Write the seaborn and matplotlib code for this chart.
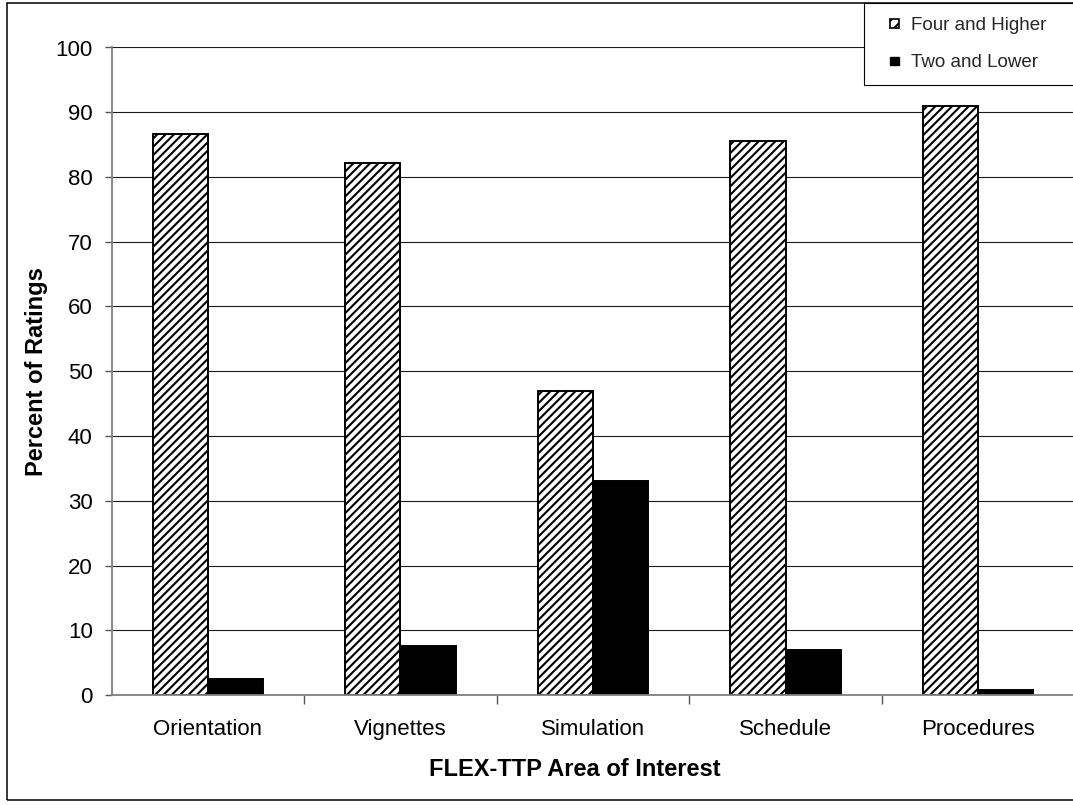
import pandas as pd
import seaborn as sns
import matplotlib.pyplot as plt
from matplotlib.patches import Patch, Rectangle
from matplotlib.legend_handler import HandlerPatch
from matplotlib.ticker import FixedLocator

# Survey results per area of interest
categories = ["Orientation", "Vignettes", "Simulation", "Schedule", "Procedures"]
four_and_higher = [86.6, 82.2, 46.9, 85.6, 90.9]
two_and_lower = [2.4, 7.6, 33.0, 6.9, 0.8]
series_names = ["Four and Higher", "Two and Lower"]
y_ticks = list(range(0, 101, 10))

df = pd.DataFrame({
    "Area": categories * 2,
    "Percent": four_and_higher + two_and_lower,
    "Rating": [series_names[0]] * len(categories) + [series_names[1]] * len(categories),
})

sns.set_theme(style="white")
plt.rcParams["font.family"] = ["Liberation Sans", "DejaVu Sans"]
plt.rcParams["hatch.linewidth"] = 1.5

W, H = 1073, 805
fig = plt.figure(figsize=(W / 100, H / 100), dpi=100)
fig.patch.set_facecolor("white")

# plot area in pixel terms
left, right, top, bottom = 111.5, 1074.5, 47.5, 695.0
ax = fig.add_axes([left / W, 1 - bottom / H, (right - left) / W, (bottom - top) / H])
ax.set_facecolor("white")

sns.barplot(
    data=df, x="Area", y="Percent", hue="Rating",
    palette=["white", "black"], saturation=1,
    width=0.574, gap=0, edgecolor="black", linewidth=1.4,
    errorbar=None, legend=False, ax=ax,
)
for bar in ax.containers[0]:
    bar.set_hatch("////")

ax.set_ylim(0, 100)
ax.set_xlim(-0.5, len(categories) - 0.5)
ax.set_yticks(y_ticks)
ax.set_yticklabels([str(v) for v in y_ticks], fontsize=16, color="black")
ax.set_xticks(range(len(categories)))
ax.set_xticklabels(categories, fontsize=16, color="black")

ax.xaxis.set_minor_locator(FixedLocator([i + 0.5 for i in range(len(categories) - 1)]))
ax.tick_params(axis="x", which="major", length=0, pad=17)
ax.tick_params(axis="x", which="minor", length=6.5, width=1.0, color="#555555", direction="out", bottom=True)
ax.tick_params(axis="y", which="major", length=5, width=1.0, color="#555555", direction="out", pad=8.5, left=True)

ax.yaxis.grid(True, color="#1a1a1a", linewidth=0.8)
ax.xaxis.grid(False)
ax.set_axisbelow(True)

for side in ("top", "right"):
    ax.spines[side].set_visible(False)
for side in ("left", "bottom"):
    ax.spines[side].set_color("#808080")
    ax.spines[side].set_linewidth(1.3)

ax.set_xlabel("FLEX-TTP Area of Interest", fontsize=17, fontweight="bold", color="black")
ax.set_ylabel("Percent of Ratings", fontsize=17, fontweight="bold", color="black", va="center")
ax.xaxis.set_label_coords((575 - left) / (right - left), (bottom - 757.5) / (bottom - top))
ax.yaxis.set_label_coords((37 - left) / (right - left), 0.5)

# outer chart border
fig.patches.append(Rectangle((7 / W, 5 / H), 1.2, (800 - 3) / H, transform=fig.transFigure,
                             fill=False, edgecolor="black", linewidth=1.1, zorder=0))


def square_marker(legend, orig_handle, xdescent, ydescent, width, height, fontsize):
    s = 6.2
    return Rectangle((width - s - xdescent, (height - s) / 2 - ydescent), s, s)


handles = [
    Patch(facecolor="white", edgecolor="black", hatch="///", linewidth=1.2),
    Patch(facecolor="black", edgecolor="black", linewidth=1.0),
]
leg = fig.legend(
    handles=handles, labels=series_names,
    handler_map={Patch: HandlerPatch(patch_func=square_marker)},
    loc="upper left", bbox_to_anchor=(864 / W, 1 - 3 / H, 0.3, 0.0), mode="expand",
    fontsize=13.5, frameon=True, fancybox=False, shadow=False, framealpha=1,
    borderpad=0.75, labelspacing=1.07, handlelength=1.1, handleheight=0.7,
    handletextpad=0.68, borderaxespad=0,
)
leg.get_frame().set_edgecolor("black")
leg.get_frame().set_linewidth(0.8)

fig.savefig("out.png", dpi=100, facecolor="white")
